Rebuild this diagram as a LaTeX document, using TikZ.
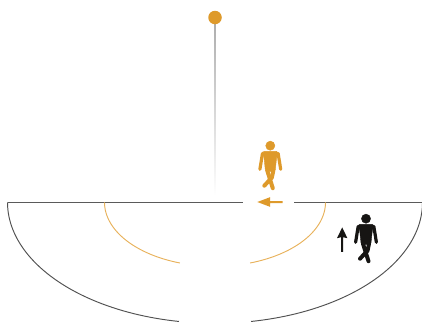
\documentclass[tikz,border=0pt]{standalone}
\definecolor{amberc}{HTML}{DE9A2B}
\definecolor{arcamber}{HTML}{E8B25C}
\definecolor{linegray}{HTML}{5A5A5A}
\definecolor{inkc}{HTML}{161513}
\tikzset{
  ground/.style={draw=linegray,line width=1.2pt},
  curveline/.style={line width=0.95pt},
  walker/.pic={
    \fill[pic actions] (0,0) circle[radius=4.6];
    \fill[pic actions,rounded corners=1.5pt] (-7.8,5.6) -- (7.8,5.6) -- (6.3,12) -- (4.8,26) -- (-4.8,26) -- (-6.3,12) -- cycle;
    \draw[pic actions,line width=3.2pt,line cap=round,line join=round] (-7.8,7.6) -- (-10.4,23.6);
    \draw[pic actions,line width=3.2pt,line cap=round,line join=round] (7.8,7.6) -- (10.4,23.6);
    \draw[pic actions,line width=4pt,line cap=round,line join=round] (-3,25) -- (-0.5,33) -- (2.5,42.5);
    \draw[pic actions,line width=4pt,line cap=round,line join=round] (3,25) -- (1.5,32) -- (-6,40);
  }
}
\begin{document}
\begin{tikzpicture}[x=1pt,y=-1pt]
\useasboundingbox (0,0) rectangle (422,322);
% pole
\shade[top color=black!32,bottom color=white] (214.3,22) rectangle (215.7,196);
\node[circle,fill=amberc,inner sep=0pt,minimum size=13.5pt] (lamp) at (215,17.5) {};
% ground
\coordinate (gl) at (7.5,202.3);
\coordinate (glend) at (243,202.3);
\coordinate (grstart) at (294,202.3);
\coordinate (gr) at (422,202.3);
\draw[ground] (gl) -- (glend);
\draw[ground] (grstart) -- (gr);
% arcs
\draw[curveline,draw=linegray!90!black] plot[domain=180:260,samples=50] ({215+207.5*cos(\x)},{202.3-121*sin(\x)});
\draw[curveline,draw=linegray!90!black] plot[domain=0:-80,samples=50] ({215+207.5*cos(\x)},{202.3-121*sin(\x)});
\draw[curveline,draw=arcamber] plot[domain=180:251.5,samples=50] ({215+110.5*cos(\x)},{202.3-64*sin(\x)});
\draw[curveline,draw=arcamber] plot[domain=0:-71.5,samples=50] ({215+110.5*cos(\x)},{202.3-64*sin(\x)});
% walkers
\pic[fill=amberc,draw=amberc] at (270.3,145.7) {walker};
\pic[fill=inkc,draw=inkc] at (366,218.7) {walker};
% orange arrow
\fill[amberc] (257.3,202) -- (270,197.2) -- (270,201) -- (282.5,201) -- (282.5,203) -- (270,203) -- (270,206.8) -- cycle;
% black arrow
\fill[inkc] (342.2,227.4) -- (347.4,238.2) -- (343.2,237.2) -- (343.2,251.8) -- (341.2,251.8) -- (341.2,237.2) -- (337,238.2) -- cycle;
\end{tikzpicture}
\end{document}
